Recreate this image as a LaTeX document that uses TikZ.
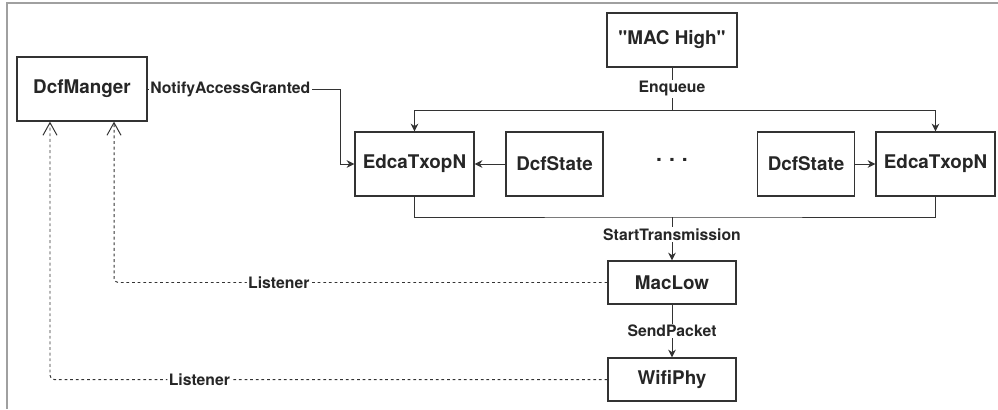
\documentclass[tikz,border=0pt]{standalone}
\usepackage{fontspec}
\setmainfont{TeX Gyre Heros}[Ligatures=TeXOff]
\usetikzlibrary{arrows.meta}

\definecolor{inkgray}{HTML}{333333}
\definecolor{framegray}{HTML}{A0A0A0}

\begin{document}
\begin{tikzpicture}[x=0.025cm, y=-0.025cm,
    box/.style={draw=inkgray, line width=0.9pt, text=black!85, minimum height=1.6cm,
        inner sep=2pt, font=\fontsize{13.4}{16}\selectfont\bfseries},
    lbl/.style={fill=white, inner sep=1pt, text=black!85,
        font=\fontsize{11.2}{13}\selectfont\bfseries},
    flow/.style={draw=inkgray, line width=0.7pt, -{Stealth[length=5.5pt,width=5.5pt]}},
    listen/.style={draw=inkgray, line width=0.7pt, dash pattern=on 2pt off 2pt,
        rounded corners=3pt, -{Straight Barb[length=9pt,width=10pt]}}]
    \useasboundingbox (0,0) rectangle (998,409);

    % Rahmen
    \draw[framegray, line width=1.4pt] (7,409) -- (7,3) -- (998,3);

    % Bloecke
    \node[box, minimum width=3.25cm] (dcfm) at (82,89) {DcfManger};
    \node[box, minimum width=3.25cm, minimum height=1.35cm] (mach) at (672,40) {"MAC High"};
    \node[box, minimum width=2.975cm] (edcaA) at (414.5,164) {EdcaTxopN};
    \node[box, minimum width=2.425cm] (dcfsA) at (554.5,164) {DcfState};
    \node[text=black!85, font=\fontsize{15}{16}\selectfont\bfseries] (dots) at (672,160) {.\,\,.\,\,.};
    \node[box, minimum width=2.425cm] (dcfsB) at (806,164) {DcfState};
    \node[box, minimum width=2.975cm] (edcaB) at (935.5,164) {EdcaTxopN};
    \node[box, minimum width=3.2cm, minimum height=1.075cm] (maclow) at (672,282.5) {MacLow};
    \node[box, minimum width=3.2cm, minimum height=1.075cm] (phy) at (672,379.5) {WifiPhy};

    % Hilfspunkte
    \coordinate (nag) at (340,89);
    \coordinate (enq) at (672,110);
    \coordinate (start) at (672,217);

    % Verbindungen
    \draw[flow] (dcfm.east) -- node[lbl, pos=0.43] {NotifyAccessGranted} (nag) |- (edcaA.west);
    \draw[draw=inkgray, line width=0.7pt] (mach.south) -- node[lbl] {Enqueue} (enq);
    \draw[flow] (enq) -| (edcaA.north);
    \draw[flow] (enq) -| (edcaB.north);
    \draw[flow] (dcfsA) -- (edcaA);
    \draw[flow] (dcfsB) -- (edcaB);
    \draw[draw=inkgray, line width=0.7pt] (edcaA.south) |- (start) -| (edcaB.south);
    \draw[flow] (start) -- node[lbl, pos=0.4] {StartTransmission} (maclow.north);
    \draw[flow] (maclow) -- node[lbl] {SendPacket} (phy);

    % Listener
    \draw[listen] (maclow.west) -| node[lbl, pos=0.333] {Listener} ([xshift=0.8cm]dcfm.south);
    \draw[listen] (phy.west) -| node[lbl, pos=0.366] {Listener} ([xshift=-0.8cm]dcfm.south);
\end{tikzpicture}
\end{document}
